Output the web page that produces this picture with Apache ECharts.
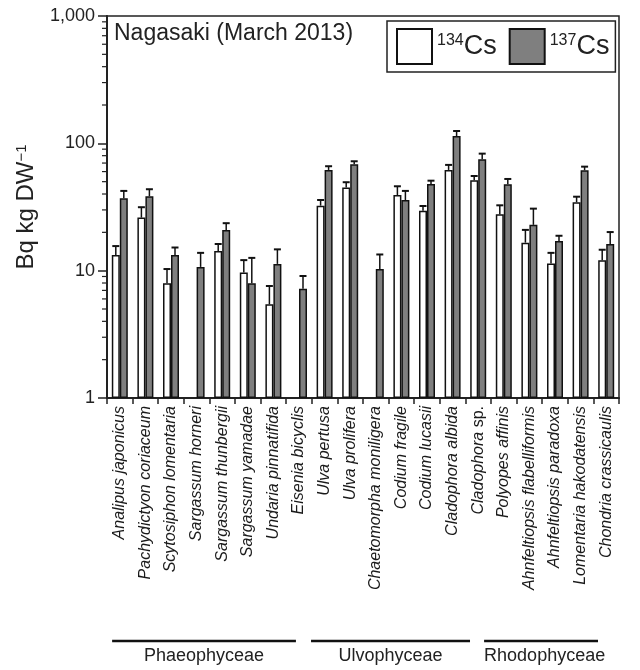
<!DOCTYPE html>
<html><head><meta charset="utf-8">
<script src="https://cdn.jsdelivr.net/npm/echarts@6/dist/echarts.min.js"></script>
<style>html,body{margin:0;padding:0;background:#fff}#c{width:640px;height:670px}</style>
</head><body><div id="c"></div>
<script>
// ---- data ----
const categories = ['Analipus japonicus','Pachydictyon coriaceum','Scytosiphon lomentaria','Sargassum horneri',
  'Sargassum thunbergii','Sargassum yamadae','Undaria pinnatifida','Eisenia bicyclis','Ulva pertusa','Ulva prolifera',
  'Chaetomorpha moniligera','Codium fragile','Codium lucasii','Cladophora albida','Cladophora sp.','Polyopes affinis',
  'Ahnfeltiopsis flabelliformis','Ahnfeltiopsis paradoxa','Lomentaria hakodatensis','Chondria crassicaulis'];
const cs134 =    [13.3, 26.1, 7.96, null, 14.3, 9.66, 5.45, null, 32.4, 44.9, null, 39.3, 29.6, 61.8, 51.3, 27.7, 16.6, 11.4, 34.5, 12.1];
const cs134Top = [15.6, 31.5, 10.3, null, 16.2, 12.1, 7.58, null, 35.9, 49.5, null, 46.0, 32.2, 67.7, 55.4, 32.6, 20.9, 13.8, 38.1, 14.6];
const cs137 =    [37.0, 38.4, 13.3, 10.7, 20.9, 7.96, 11.3, 7.22, 61.8, 68.5, 10.3, 35.9, 48.0, 114, 75.0, 47.7, 22.9, 17.1, 61.5, 16.2];
const cs137Top = [42.3, 43.6, 15.2, 13.8, 23.6, 12.6, 14.7, 9.08, 66.1, 72.3, 13.4, 42.3, 50.9, 125, 83.0, 52.5, 30.7, 18.8, 65.6, 20.1];
const yTickLabels = ['1', '10', '100', '1,000'];
const groupNames = ['Phaeophyceae', 'Ulvophyceae', 'Rhodophyceae'];
const groupFrom = [-0.3, 7.47, 14.23];
const groupTo = [6.88, 13.68, 18.68];

// ---- chart ----
const FONT = 'Liberation Sans, Arial, sans-serif';
const BAR_W = 8;
const chart = echarts.init(document.getElementById('c'), null, {renderer: 'canvas'});

function errSeries(name, vals, tops, offset) {
  const data = [];
  vals.forEach((v, i) => { if (v != null) data.push([i, v, tops[i]]); });
  return {
    type: 'custom', name: name, data: data, z: 5, silent: true,
    encode: {x: 0, y: [1, 2]},
    renderItem: function (params, api) {
      const lo = api.coord([api.value(0), api.value(1)]);
      const hi = api.coord([api.value(0), api.value(2)]);
      const x = lo[0] + offset;
      return {type: 'group', children: [
        {type: 'line', shape: {x1: x, y1: lo[1], x2: x, y2: hi[1]}, style: {stroke: '#111', lineWidth: 1.5}},
        {type: 'line', shape: {x1: x - 3.5, y1: hi[1], x2: x + 3.5, y2: hi[1]}, style: {stroke: '#111', lineWidth: 2}}
      ]};
    }
  };
}

const minorVals = [];
for (let d = 1; d < 1000; d *= 10) for (let k = 2; k <= 9; k++) minorVals.push([0, d * k]);

const option = {
  animation: false,
  backgroundColor: '#fff',
  textStyle: {fontFamily: FONT},
  title: {
    text: 'Nagasaki (March 2013)', left: 114, top: 22, padding: 0,
    textStyle: {fontFamily: FONT, fontSize: 23, fontWeight: 'normal', color: '#222'}
  },
  legend: {
    data: ['134Cs', '137Cs'], left: 387, top: 21, icon: 'rect',
    itemWidth: 35, itemHeight: 35, itemGap: 12, padding: [7, 6, 7, 9],
    borderColor: '#222', borderWidth: 1.5, selectedMode: false,
    formatter: function (n) { return '{s|' + n.slice(0, 3) + '}{c|Cs}'; },
    textStyle: {
      fontFamily: FONT, color: '#222',
      rich: {
        s: {fontSize: 16, fontFamily: FONT, color: '#222', verticalAlign: 'top', padding: [0, 0, 10, 0]},
        c: {fontSize: 27, fontFamily: FONT, color: '#222'}
      }
    }
  },
  grid: {left: 107, right: 21, top: 16, bottom: 272, show: true, borderColor: '#222', borderWidth: 1.5},
  xAxis: {
    type: 'category', data: categories,
    axisLine: {lineStyle: {color: '#222', width: 2}},
    axisTick: {show: true, length: 6, inside: false, lineStyle: {color: '#222', width: 1.5}},
    axisLabel: {
      rotate: 90, interval: 0, margin: 8, fontSize: 16, fontStyle: 'italic', color: '#1a1a1a', fontFamily: FONT,
      formatter: function (v) {
        if (v.endsWith(' sp.')) return '{i|' + v.slice(0, -4) + '} {n|sp.}';
        return '{i|' + v + '}';
      },
      rich: {
        i: {fontSize: 16, fontStyle: 'italic', fontFamily: FONT, color: '#1a1a1a'},
        n: {fontSize: 16, fontStyle: 'normal', fontFamily: FONT, color: '#1a1a1a'}
      }
    }
  },
  yAxis: {
    type: 'log', logBase: 10, min: 1, max: 1000,
    name: '{a|Bq kg DW}{s|\u22121}', nameLocation: 'middle', nameGap: 68,
    nameTextStyle: {
      rich: {
        a: {fontSize: 24, fontFamily: FONT, color: '#222'},
        s: {fontSize: 15, fontFamily: FONT, color: '#222', verticalAlign: 'top', padding: [0, 0, 10, 0]}
      }
    },
    axisLine: {show: true, lineStyle: {color: '#222', width: 2}},
    axisTick: {show: true, length: 9, lineStyle: {color: '#222', width: 1.5}},
    splitLine: {show: false},
    axisLabel: {
      fontSize: 18, color: '#222', margin: 12, fontFamily: FONT,
      formatter: function (v) { return yTickLabels[Math.round(Math.log10(v))]; }
    }
  },
  series: [
    {name: '134Cs', type: 'bar', data: cs134, barWidth: BAR_W, barGap: '0%',
     itemStyle: {color: '#fff', borderColor: '#111', borderWidth: 1.5}},
    {name: '137Cs', type: 'bar', data: cs137, barWidth: BAR_W, barGap: '0%',
     itemStyle: {color: '#7f7f7f', borderColor: '#111', borderWidth: 1.5}},
    errSeries('err134', cs134, cs134Top, -BAR_W / 2),
    errSeries('err137', cs137, cs137Top, BAR_W / 2),
    {
      type: 'custom', name: 'minorTicks', data: minorVals, silent: true, clip: false,
      encode: {x: 0, y: 1},
      renderItem: function (params, api) {
        const p = api.coord([0, api.value(1)]);
        const x0 = params.coordSys.x;
        return {type: 'line', shape: {x1: x0 - 5, y1: p[1], x2: x0, y2: p[1]}, style: {stroke: '#222', lineWidth: 1.2}};
      }
    }
  ]
};
chart.setOption(option);

// group annotations below the axis labels
const c0 = chart.convertToPixel({xAxisIndex: 0}, 0);
const step = chart.convertToPixel({xAxisIndex: 0}, 1) - c0;
const gEls = [];
groupNames.forEach((g, k) => {
  const x1 = c0 + groupFrom[k] * step, x2 = c0 + groupTo[k] * step;
  gEls.push({type: 'line', shape: {x1: x1, y1: 641, x2: x2, y2: 641}, style: {stroke: '#111', lineWidth: 2.5}});
  const left = k === 2;
  gEls.push({type: 'text', x: left ? x1 : (x1 + x2) / 2, y: 656,
    style: {text: g, font: '18px ' + FONT, fill: '#222', align: left ? 'left' : 'center', verticalAlign: 'middle'}});
});
chart.setOption({graphic: gEls});
</script>
</body></html>
